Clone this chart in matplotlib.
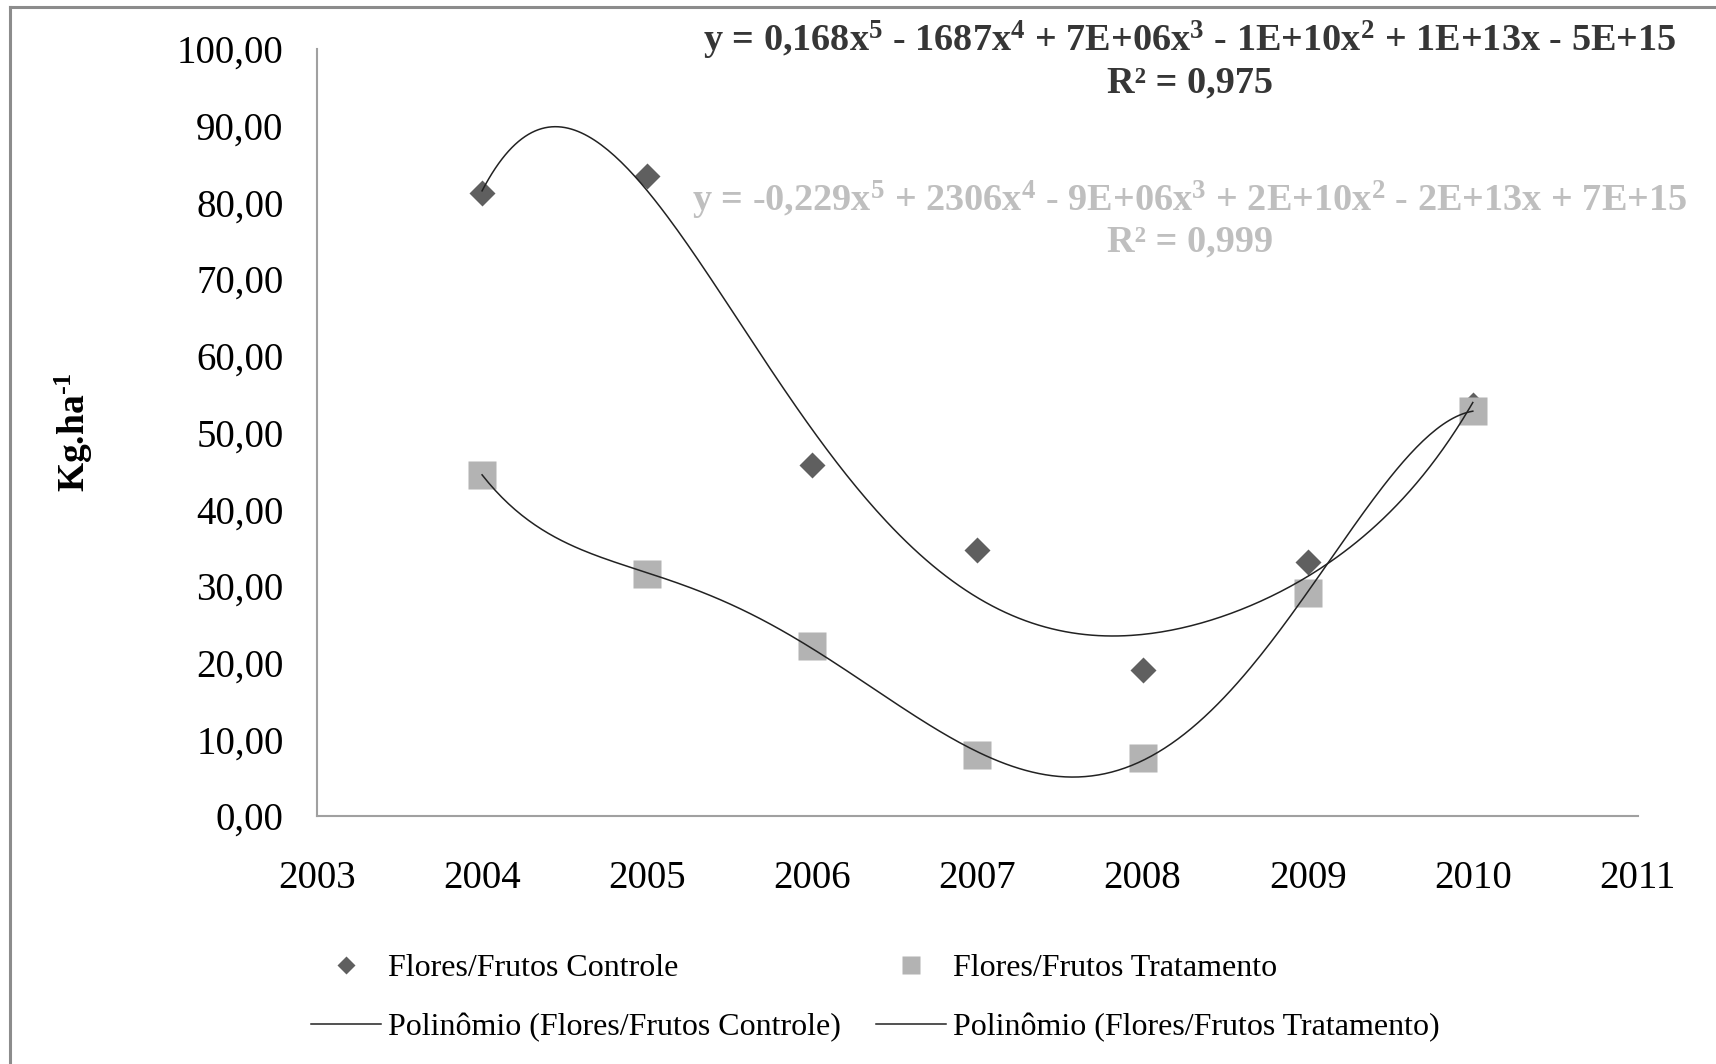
import numpy as np
import matplotlib
matplotlib.use("Agg")
import matplotlib.pyplot as plt
from matplotlib.lines import Line2D

plt.rcParams['font.family'] = ['Liberation Serif', 'DejaVu Serif']
plt.rcParams['mathtext.fontset'] = 'custom'
plt.rcParams['mathtext.rm'] = 'Liberation Serif:bold'
plt.rcParams['mathtext.it'] = 'Liberation Serif:bold'
plt.rcParams['mathtext.bf'] = 'Liberation Serif:bold'

years = [2004, 2005, 2006, 2007, 2008, 2009, 2010]
controle = [81.2, 83.4, 45.7, 34.7, 19.0, 33.1, 53.6]
tratamento = [44.5, 31.6, 22.1, 8.0, 7.5, 29.1, 52.8]

xticks = [2003, 2004, 2005, 2006, 2007, 2008, 2009, 2010, 2011]
yticks = [0, 10, 20, 30, 40, 50, 60, 70, 80, 90, 100]

eq_controle = r'y = 0,168x$^{5}$ - 1687x$^{4}$ + 7E+06x$^{3}$ - 1E+10x$^{2}$ + 1E+13x - 5E+15'
r2_controle = 'R² = 0,975'
eq_trat = r'y = -0,229x$^{5}$ + 2306x$^{4}$ - 9E+06x$^{3}$ + 2E+10x$^{2}$ - 2E+13x + 7E+15'
r2_trat = 'R² = 0,999'

fig = plt.figure(figsize=(17.16, 10.64), dpi=100)
ax = fig.add_axes([0.1847, 0.2331, 0.7698, 0.7208])

x = np.array(years, dtype=float)
xs = np.linspace(2004, 2010, 300)

# 5th degree trend lines, like the Excel "Polinômio" trendline
for vals in (controle, tratamento):
    coef = np.polyfit(x - 2007, vals, 5)
    ax.plot(xs, np.polyval(coef, xs - 2007), color='#222222', lw=1.1, zorder=3)

ax.plot(years, controle, 'D', color='#5f5f5f', ms=13.5, mec='none', zorder=2)
ax.plot(years, tratamento, 's', color='#b3b3b3', ms=20, mec='none', zorder=2)

ax.set_xlim(2003, 2011)
ax.set_ylim(0, 100)
ax.set_xticks(xticks)
ax.set_yticks(yticks)
ax.set_yticklabels([('%.2f' % v).replace('.', ',') for v in yticks])
ax.tick_params(length=0, labelsize=28)
ax.tick_params(axis='x', pad=32)
ax.tick_params(axis='y', pad=24)
for s in ('top', 'right'):
    ax.spines[s].set_visible(False)
for s in ('left', 'bottom'):
    ax.spines[s].set_color('#a0a0a0')
    ax.spines[s].set_linewidth(1.5)

ax.set_ylabel(r'Kg.ha$^{\text{-}1}$', fontsize=27, fontweight='bold')
ax.yaxis.set_label_coords(-0.168, 0.5)

fig.text(1190 / 1716, 1 - 40 / 1064, eq_controle, fontsize=27.5, fontweight='bold',
         color='#363636', ha='center', va='center')
fig.text(1190 / 1716, 1 - 83 / 1064, r2_controle, fontsize=27.5, fontweight='bold',
         color='#363636', ha='center', va='center')
fig.text(1190 / 1716, 1 - 200 / 1064, eq_trat, fontsize=27.5, fontweight='bold',
         color='#bfbfbf', ha='center', va='center')
fig.text(1190 / 1716, 1 - 242 / 1064, r2_trat, fontsize=27.5, fontweight='bold',
         color='#bfbfbf', ha='center', va='center')

handles = [
    Line2D([], [], ls='none', marker='D', color='#5f5f5f', ms=9, mec='none'),
    Line2D([], [], color='#222222', lw=1.1),
    Line2D([], [], ls='none', marker='s', color='#b3b3b3', ms=13, mec='none'),
    Line2D([], [], color='#222222', lw=1.1),
]
labels = ['Flores/Frutos Controle', 'Polinômio (Flores/Frutos Controle)',
          'Flores/Frutos Tratamento', 'Polinômio (Flores/Frutos Tratamento)']
fig.legend(handles, labels, ncol=2, loc='center', bbox_to_anchor=(0.51, 0.062),
           frameon=False, fontsize=23, handlelength=2.2, handletextpad=0.2,
           columnspacing=1.1, labelspacing=0.95)

# outer chart border (only top and left edges are visible)
fig.add_artist(Line2D([10 / 1716, 10 / 1716], [0, 1 - 7 / 1064], transform=fig.transFigure,
                      color='#8c8c8c', lw=2.2))
fig.add_artist(Line2D([10 / 1716, 1], [1 - 7 / 1064, 1 - 7 / 1064], transform=fig.transFigure,
                      color='#8c8c8c', lw=2.2))

fig.savefig('out.png', dpi=100)
